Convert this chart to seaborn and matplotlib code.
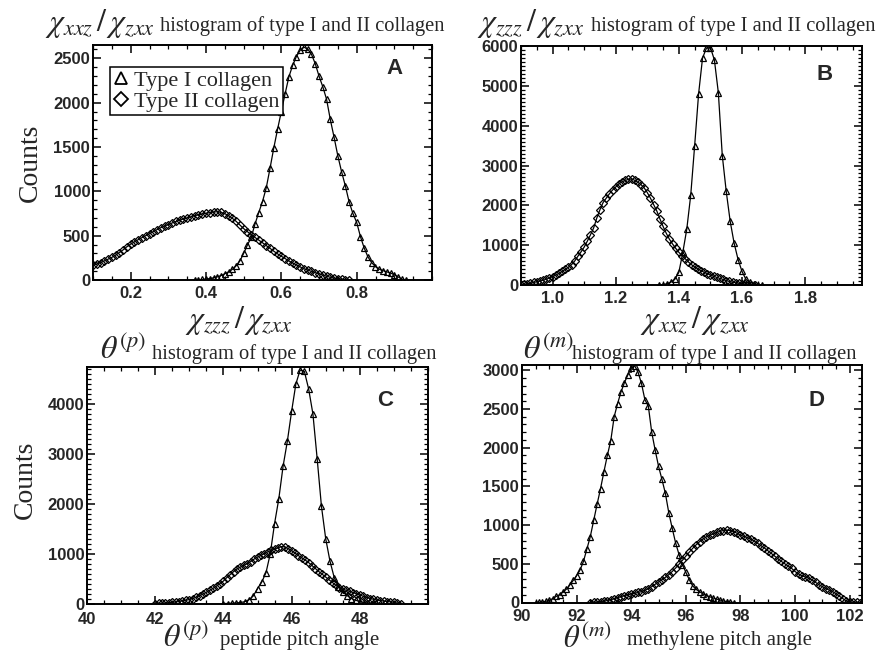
import numpy as np
import pandas as pd
import matplotlib
matplotlib.use("Agg")
import matplotlib.pyplot as plt
import seaborn as sns
from matplotlib.ticker import MultipleLocator, FixedLocator
from matplotlib.lines import Line2D

# ---------------- data ----------------
# Panel A : chi_zzz / chi_zxx
a1_start, a1_step = 0.37, 0.01
a1_counts = [0, 3, 6, 10, 16, 24, 35, 50, 70, 92, 120, 160, 215, 300, 395, 480, 630, 760,
             885, 1040, 1260, 1490, 1700, 1900, 2100, 2290, 2420, 2520, 2590, 2625, 2605,
             2545, 2440, 2300, 2180, 2040, 1810, 1610, 1400, 1220, 1060, 880, 750, 650, 490,
             360, 260, 195, 150, 122, 105, 92, 78, 60, 35, 10, 0]
a2_start, a2_step = 0.10, 0.01
a2_counts = [165, 180, 195, 215, 235, 255, 280, 310, 340, 375, 405, 430, 455, 478, 500, 522,
             545, 568, 590, 608, 625, 643, 660, 675, 688, 700, 713, 725, 735, 745, 752, 760,
             766, 770, 762, 748, 725, 695, 662, 620, 580, 545, 512, 480, 450, 420, 388, 357,
             325, 295, 268, 242, 215, 192, 170, 148, 127, 112, 97, 83, 70, 56, 43, 31, 22,
             14, 8, 4, 0]

# Panel B : chi_xxz / chi_zxx
b1_start, b1_step = 1.3375, 0.0125
b1_counts = [0, 10, 30, 70, 145, 320, 820, 1400, 2250, 3500, 4800, 5700, 5950, 5960, 5650,
             4830, 3250, 2350, 1600, 1050, 640, 340, 140, 70, 35, 12, 0]
b2_start, b2_step = 0.90, 0.01
b2_counts = [5, 15, 30, 45, 65, 80, 100, 120, 145, 175, 210, 250, 290, 340, 390, 445, 510,
             600, 720, 830, 950, 1100, 1260, 1430, 1680, 1890, 2070, 2180, 2290, 2385, 2460,
             2540, 2590, 2625, 2650, 2660, 2630, 2580, 2520, 2440, 2320, 2180, 2020, 1860,
             1660, 1470, 1300, 1150, 1030, 920, 820, 740, 660, 580, 510, 455, 405, 360, 320,
             285, 250, 220, 190, 165, 140, 110, 88, 70, 55, 44, 32, 22, 12, 5, 0]

# Panel C : peptide pitch angle
c1_start, c1_step = 44.0, 0.125
c1_counts = [0, 0, 5, 10, 20, 35, 75, 150, 300, 430, 620, 1000, 1600, 2100, 2750, 3250, 3850,
             4400, 4680, 4650, 4300, 3800, 2900, 1950, 1300, 850, 520, 340, 230, 160, 100,
             65, 40, 20, 5, 0]
c2_start, c2_step = 42.0, 0.1
c2_counts = [0, 3, 6, 10, 15, 22, 30, 40, 52, 63, 80, 100, 125, 155, 190, 225, 265, 305, 350,
             400, 450, 520, 580, 640, 695, 730, 765, 800, 840, 890, 930, 965, 1000, 1035,
             1065, 1090, 1115, 1140, 1135, 1100, 1060, 1010, 960, 915, 870, 820, 760, 700,
             640, 585, 530, 475, 420, 365, 320, 290, 265, 245, 220, 195, 170, 145, 120, 100,
             85, 70, 58, 48, 40, 33, 22, 10, 0]

# Panel D : methylene pitch angle
d1_start, d1_step = 90.5, 0.125
d1_counts = [0, 3, 8, 15, 28, 50, 78, 100, 135, 172, 225, 285, 348, 420, 530, 690, 850, 1060,
             1270, 1470, 1690, 1900, 2090, 2400, 2570, 2720, 2840, 2940, 3030, 3060, 2975,
             2830, 2620, 2540, 2200, 1970, 1760, 1590, 1410, 1160, 960, 770, 620, 490, 390,
             295, 215, 170, 140, 112, 90, 74, 58, 44, 32, 20, 10, 3, 0]
d2_start, d2_step = 92.5, 0.125
d2_counts = [0, 4, 8, 12, 17, 25, 35, 48, 62, 75, 88, 100, 110, 120, 130, 140, 158, 178, 205,
             235, 265, 295, 325, 360, 400, 445, 495, 545, 600, 650, 700, 745, 785, 820, 848,
             868, 885, 905, 920, 930, 935, 930, 915, 895, 870, 855, 838, 820, 795, 765, 735,
             705, 670, 635, 600, 565, 530, 500, 470, 440, 400, 370, 345, 330, 315, 290, 260,
             230, 205, 180, 160, 140, 115, 80, 50, 20, 10, 5, 2, 0]

series_labels = ["Type I collagen", "Type II collagen"]


def bins(start, step, counts):
    return np.round(start + step * np.arange(len(counts)), 5)


# ---------------- style ----------------
sns.set_style("ticks")
plt.rcParams['font.family'] = ['Liberation Serif', 'DejaVu Serif']
plt.rcParams['mathtext.fontset'] = 'stix'
plt.rcParams['axes.linewidth'] = 1.4
plt.rcParams['xtick.direction'] = 'in'
plt.rcParams['ytick.direction'] = 'in'

W, H = 887, 657
fig = plt.figure(figsize=(W / 100, H / 100), dpi=100)


def rect(l, t, r, b):
    return [l / W, 1 - b / H, (r - l) / W, (b - t) / H]


def fx(x):
    return x / W


def fy(y):
    return 1 - y / H


axA = fig.add_axes(rect(93, 45, 432, 280))
axB = fig.add_axes(rect(521, 46, 862, 285))
axC = fig.add_axes(rect(87, 367, 428, 603.5))
axD = fig.add_axes(rect(522, 364.5, 862, 602.5))

line_kw = dict(color="black", linewidth=0.9, markerfacecolor="none",
               markeredgecolor="black", markeredgewidth=0.9)


def draw(ax, s1, s2):
    for (start, step, counts), mk in zip([s1, s2], ["^", "D"]):
        df = pd.DataFrame({"x": bins(start, step, counts), "y": counts})
        kw = dict(line_kw)
        kw["markersize"] = 5 if mk == "^" else 4
        sns.lineplot(data=df, x="x", y="y", ax=ax, marker=mk, estimator=None,
                     sort=True, **kw)


draw(axA, (a1_start, a1_step, a1_counts), (a2_start, a2_step, a2_counts))
draw(axB, (b1_start, b1_step, b1_counts), (b2_start, b2_step, b2_counts))
draw(axC, (c1_start, c1_step, c1_counts), (c2_start, c2_step, c2_counts))
draw(axD, (d1_start, d1_step, d1_counts), (d2_start, d2_step, d2_counts))

cfg = {
    axA: dict(xlim=(0.1, 1.0), ylim=(0, 2650), xmaj=[0.2, 0.4, 0.6, 0.8], xmin=0.05,
              ymaj=500, ymin=100, xfmt="{:.1f}", letter="A", lpos=(395, 68), xpad=4),
    axB: dict(xlim=(0.9, 1.98), ylim=(0, 6000), xmaj=[1.0, 1.2, 1.4, 1.6, 1.8], xmin=0.05,
              ymaj=1000, ymin=100, xfmt="{:.1f}", letter="B", lpos=(825, 75), xpad=4),
    axC: dict(xlim=(40, 50), ylim=(0, 4740), xmaj=[40, 42, 44, 46, 48], xmin=0.5,
              ymaj=1000, ymin=100, xfmt="{:.0f}", letter="C", lpos=(385, 400), xpad=6),
    axD: dict(xlim=(90, 102.45), ylim=(0, 3075), xmaj=[90, 92, 94, 96, 98, 100, 102],
              xmin=0.5, ymaj=500, ymin=100, xfmt="{:.0f}", letter="D", lpos=(817, 400),
              xpad=5),
}

for ax, c in cfg.items():
    ax.set_xlim(*c["xlim"])
    ax.set_ylim(*c["ylim"])
    ax.xaxis.set_major_locator(FixedLocator(c["xmaj"]))
    ax.set_xticklabels([c["xfmt"].format(v) for v in c["xmaj"]])
    ax.xaxis.set_minor_locator(MultipleLocator(c["xmin"]))
    ax.yaxis.set_major_locator(MultipleLocator(c["ymaj"]))
    ax.yaxis.set_minor_locator(MultipleLocator(c["ymin"]))
    ax.tick_params(which="both", direction="in", top=True, right=True, color="black")
    ax.tick_params(which="major", length=6, width=1.1)
    ax.tick_params(which="minor", length=3, width=0.9)
    ax.tick_params(axis="y", which="major", pad=2)
    ax.tick_params(axis="x", which="major", pad=c["xpad"])
    for lab in ax.get_xticklabels() + ax.get_yticklabels():
        lab.set_fontfamily("Liberation Sans")
        lab.set_fontweight("bold")
        lab.set_fontsize(12)
    ax.set_xlabel("")
    ax.set_ylabel("")
    for sp in ax.spines.values():
        sp.set_visible(True)
        sp.set_color("black")
        sp.set_linewidth(1.4)
    fig.text(fx(c["lpos"][0]), fy(c["lpos"][1]), c["letter"], family="Liberation Sans",
             fontweight="bold", fontsize=16, ha="center", va="center")

# legend in panel A
handles = [Line2D([], [], linestyle="none", marker="^", markersize=9, markerfacecolor="none",
                  markeredgecolor="black", markeredgewidth=1.3),
           Line2D([], [], linestyle="none", marker="D", markersize=7.5, markerfacecolor="none",
                  markeredgecolor="black", markeredgewidth=1.3)]
leg = axA.legend(handles, series_labels, loc="upper left", bbox_to_anchor=(0.05, 0.905),
                 frameon=True, fancybox=False, framealpha=1, edgecolor="black",
                 fontsize=16, handlelength=0.7, handletextpad=0.25, labelspacing=0.0,
                 borderpad=0.15, borderaxespad=0)
leg.get_frame().set_linewidth(1.1)

# titles
title_txt = "histogram of type I and II collagen"
fig.text(fx(45), fy(31), r"$\chi_{xxz}\,/\,\chi_{zxx}$", fontsize=23, va="baseline")
fig.text(fx(160), fy(31), title_txt, fontsize=14.8, va="baseline")
fig.text(fx(477), fy(31), r"$\chi_{zzz}\,/\,\chi_{zxx}$", fontsize=23, va="baseline")
fig.text(fx(591), fy(31), title_txt, fontsize=14.8, va="baseline")
fig.text(fx(100), fy(359), r"$\theta^{(p)}$", fontsize=23, va="baseline")
fig.text(fx(152), fy(359), title_txt, fontsize=14.8, va="baseline")
fig.text(fx(523), fy(359), r"$\theta^{(m)}$", fontsize=23, va="baseline")
fig.text(fx(572), fy(359), title_txt, fontsize=14.8, va="baseline")

# x labels
fig.text(fx(239), fy(328), r"$\chi_{zzz}\,/\,\chi_{zxx}$", fontsize=23, va="baseline",
         ha="center")
fig.text(fx(695), fy(328), r"$\chi_{xxz}\,/\,\chi_{zxx}$", fontsize=23, va="baseline",
         ha="center")
fig.text(fx(163), fy(647), r"$\theta^{(p)}$", fontsize=23, va="baseline")
fig.text(fx(220), fy(645), "peptide pitch angle", fontsize=15, va="baseline")
fig.text(fx(563), fy(648), r"$\theta^{(m)}$", fontsize=22, va="baseline")
fig.text(fx(627), fy(645), "methylene pitch angle", fontsize=15, va="baseline")

# y labels
fig.text(fx(30), fy(163), "Counts", fontsize=20, rotation=90, ha="center", va="center")
fig.text(fx(25), fy(480), "Counts", fontsize=20, rotation=90, ha="center", va="center")

fig.savefig("out.png", dpi=100)
